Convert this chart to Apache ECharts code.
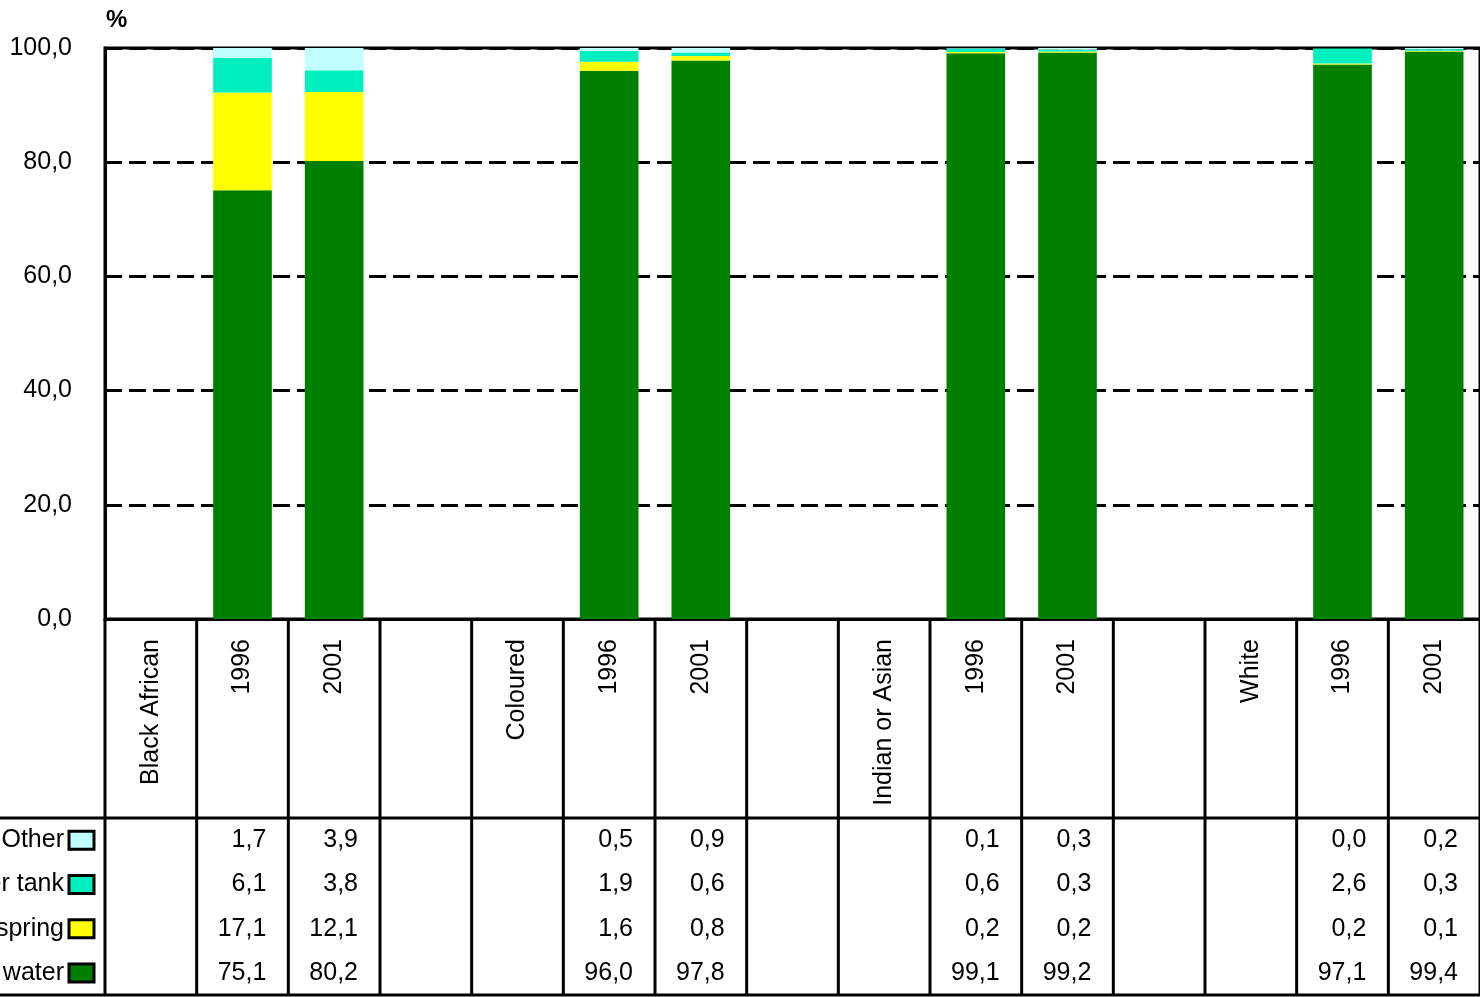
<!DOCTYPE html>
<html>
<head>
<meta charset="utf-8">
<script src="https://cdn.jsdelivr.net/npm/echarts@6/dist/echarts.min.js"></script>
<style>
  html, body { margin: 0; padding: 0; background: #fff; }
  #chart { width: 1480px; height: 997px; }
</style>
</head>
<body>
<div id="chart"></div>
<script>
// categories along the x axis (group label columns and blank spacer columns included)
const categories = ['Black African', '1996', '2001', '', 'Coloured', '1996', '2001', '',
  'Indian or Asian', '1996', '2001', '', 'White', '1996', '2001'];

const seriesNames = ['Piped water', 'Borehole/spring', 'Rainwater tank', 'Other'];
const seriesColors = ['#008000', '#ffff00', '#00efbf', '#c0ffff'];

// percentages, null = no bar in that column
const pipedWater     = [null, 75.1, 80.2, null, null, 96.0, 97.8, null, null, 99.1, 99.2, null, null, 97.1, 99.4];
const boreholeSpring = [null, 17.1, 12.1, null, null, 1.6, 0.8, null, null, 0.2, 0.2, null, null, 0.2, 0.1];
const rainwaterTank  = [null, 6.1, 3.8, null, null, 1.9, 0.6, null, null, 0.6, 0.3, null, null, 2.6, 0.3];
const other          = [null, 1.7, 3.9, null, null, 0.5, 0.9, null, null, 0.1, 0.3, null, null, 0.0, 0.2];

const seriesData = [pipedWater, boreholeSpring, rainwaterTank, other];

const FONT = "'Liberation Sans Narrow', 'Arial Narrow', 'Liberation Sans', Arial, sans-serif";

function fmt(v) {
  return v.toFixed(1).replace('.', ',');
}

const chart = echarts.init(document.getElementById('chart'));

chart.setOption({
  animation: false,
  backgroundColor: '#fff',
  grid: {
    left: 105,
    right: 0,
    top: 48,
    bottom: 378,
    outerBoundsMode: 'none',
    containLabel: false,
    show: true,
    borderColor: '#000',
    borderWidth: 3,
    backgroundColor: 'transparent'
  },
  xAxis: {
    type: 'category',
    data: categories,
    axisLine: { lineStyle: { color: '#000', width: 3 } },
    axisTick: { show: false },
    axisLabel: {
      rotate: 90,
      interval: 0,
      margin: 20,
      color: '#000',
      fontSize: 25,
      fontFamily: FONT
    }
  },
  yAxis: {
    type: 'value',
    min: 0,
    max: 100,
    interval: 20,
    axisLine: { show: true, lineStyle: { color: '#000', width: 3 } },
    axisTick: { show: false },
    axisLabel: {
      margin: 33,
      color: '#000',
      fontSize: 25,
      fontFamily: FONT,
      formatter: fmt
    },
    splitLine: {
      lineStyle: { color: '#000', width: 3, type: [17, 7] }
    }
  },
  series: seriesNames.map(function (name, i) {
    return {
      name: name,
      type: 'bar',
      stack: 'total',
      barCategoryGap: '36%',
      itemStyle: { color: seriesColors[i] },
      data: seriesData[i]
    };
  })
});

// data table below the plot, positioned from the category axis
const c0 = chart.convertToPixel({ xAxisIndex: 0 }, 0);
const c1 = chart.convertToPixel({ xAxisIndex: 0 }, 1);
const band = c1 - c0;
const axisY = chart.convertToPixel({ yAxisIndex: 0 }, 0);
const tableTop = 818;
const tableBottom = 995;
const rowH = (tableBottom - tableTop) / 4;

const graphics = [];

function line(x1, y1, x2, y2) {
  graphics.push({
    type: 'line',
    shape: { x1: x1, y1: y1, x2: x2, y2: y2 },
    style: { stroke: '#000', lineWidth: 3 },
    z: 10
  });
}

for (let i = 0; i <= categories.length; i++) {
  const bx = c0 - band / 2 + i * band;
  line(bx, axisY, bx, tableBottom);
}
line(0, tableTop, 1480, tableTop);
line(0, tableBottom, 1480, tableBottom);

// rows: top to bottom = Other, tank, spring, piped
for (let r = 0; r < 4; r++) {
  const s = 3 - r;
  const cy = tableTop + rowH * (r + 0.5);
  graphics.push({
    type: 'rect',
    shape: { x: 69, y: cy - 9, width: 25, height: 18 },
    style: { fill: seriesColors[s], stroke: '#000', lineWidth: 3 },
    z: 10
  });
  graphics.push({
    type: 'text',
    x: 64,
    y: cy,
    style: {
      text: seriesNames[s],
      textAlign: 'right',
      textVerticalAlign: 'middle',
      fill: '#000',
      fontSize: 25,
      fontFamily: FONT
    },
    z: 10
  });
  seriesData[s].forEach(function (v, i) {
    if (v === null) return;
    const cx = chart.convertToPixel({ xAxisIndex: 0 }, i);
    graphics.push({
      type: 'text',
      x: cx + band / 2 - 22,
      y: cy,
      style: {
        text: fmt(v),
        textAlign: 'right',
        textVerticalAlign: 'middle',
        fill: '#000',
        fontSize: 25,
        fontFamily: FONT
      },
      z: 10
    });
  });
}

graphics.push({
  type: 'text',
  x: 106,
  y: 8,
  style: { text: '%', fill: '#000', fontSize: 24, fontWeight: 'bold', fontFamily: FONT },
  z: 10
});

chart.setOption({ graphic: graphics });
</script>
</body>
</html>
